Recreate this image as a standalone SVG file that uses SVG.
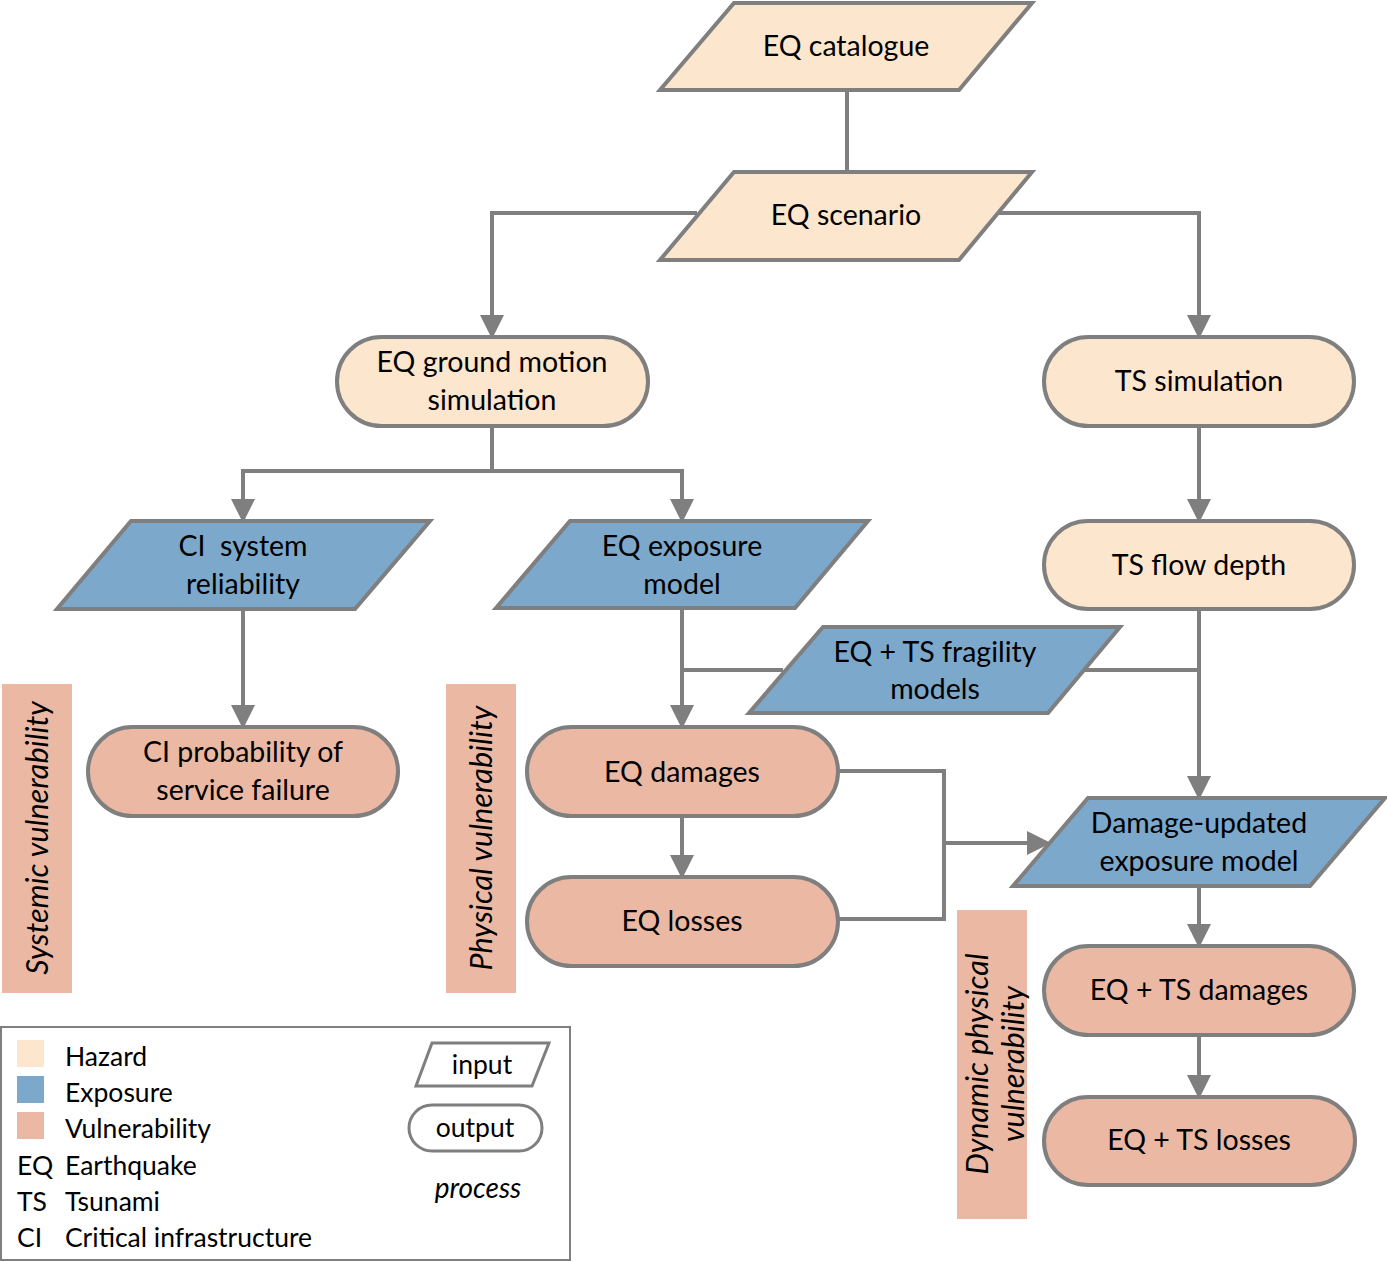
<svg xmlns="http://www.w3.org/2000/svg" width="1387" height="1262" viewBox="0 0 1387 1262">
<defs>
<style>
.hz{fill:#FCE6CD;stroke:#7F7F7F;stroke-width:4;stroke-linejoin:miter}
.ex{fill:#7CA8CC;stroke:#7F7F7F;stroke-width:4;stroke-linejoin:miter}
.vu{fill:#EBB9A3;stroke:#7F7F7F;stroke-width:4}
.bar{fill:#EBB9A3}
.ln{fill:none;stroke:#7F7F7F;stroke-width:4}
.ar{fill:none;stroke:#7F7F7F;stroke-width:4;marker-end:url(#ah)}
text{font-family:Lato,"Liberation Sans",sans-serif;font-size:28.5px;fill:#000}
.c{text-anchor:middle}
.it{font-style:italic}
.side{font-size:30.5px}
.lg{font-size:26.5px}
.pr{font-size:28px}
</style>
<marker id="ah" markerWidth="6" markerHeight="6" refX="5" refY="3" orient="auto" markerUnits="strokeWidth">
<path d="M0,0 L6,3 L0,6 Z" fill="#7F7F7F"/>
</marker>
</defs>
<g id="connectors">
<path class="ln" d="M847,90 V172"/>
<path class="ar" d="M697,213 H492 V335"/>
<path class="ar" d="M999,213 H1199 V335"/>
<path class="ln" d="M492,426 V471"/>
<path class="ar" d="M492,471 H243 V519"/>
<path class="ar" d="M492,471 H682 V519"/>
<path class="ar" d="M1199,426 V519"/>
<path class="ar" d="M243,609 V725"/>
<path class="ar" d="M682,608 V725"/>
<path class="ln" d="M682,670 H783"/>
<path class="ln" d="M1084,670 H1199"/>
<path class="ar" d="M1199,609 V796"/>
<path class="ar" d="M682,816 V875"/>
<path class="ln" d="M838,771 H944 V919 H838"/>
<path class="ar" d="M944,843 H1047"/>
<path class="ar" d="M1199,886 V944"/>
<path class="ar" d="M1199,1035 V1095"/>
</g>
<g id="eq-catalogue">
<polygon class="hz" points="734,3 1032,3 959,90 660,90"/>
<text class="c" x="846" y="56">EQ catalogue</text>
</g>
<g id="eq-scenario">
<polygon class="hz" points="734,172 1032,172 959,260 660,260"/>
<text class="c" x="846" y="225">EQ scenario</text>
</g>
<g id="eq-ground-motion">
<rect class="hz" x="337" y="337" width="311" height="89" rx="44.5"/>
<text class="c" x="492" y="372">EQ ground motion</text>
<text class="c" x="492" y="410">simulation</text>
</g>
<g id="ts-simulation">
<rect class="hz" x="1044" y="337" width="310" height="89" rx="44.5"/>
<text class="c" x="1199" y="391">TS simulation</text>
</g>
<g id="ci-system">
<polygon class="ex" points="131,521 430,521 355,609 57,609"/>
<text class="c" x="243" y="556" xml:space="preserve">CI  system</text>
<text class="c" x="243" y="594">reliability</text>
</g>
<g id="eq-exposure">
<polygon class="ex" points="570,521 868,521 795,608 496,608"/>
<text class="c" x="682" y="556">EQ exposure</text>
<text class="c" x="682" y="594">model</text>
</g>
<g id="ts-flow-depth">
<rect class="hz" x="1044" y="521" width="310" height="88" rx="44"/>
<text class="c" x="1199" y="575">TS flow depth</text>
</g>
<g id="fragility">
<polygon class="ex" points="823,627 1120,627 1048,713 749,713"/>
<text class="c" x="935" y="662">EQ + TS fragility</text>
<text class="c" x="935" y="699">models</text>
</g>
<g id="ci-failure">
<rect class="vu" x="88" y="727" width="310" height="89" rx="44.5"/>
<text class="c" x="243" y="762">CI probability of</text>
<text class="c" x="243" y="800">service failure</text>
</g>
<g id="eq-damages">
<rect class="vu" x="527" y="727" width="311" height="89" rx="44.5"/>
<text class="c" x="682" y="782">EQ damages</text>
</g>
<g id="eq-losses">
<rect class="vu" x="527" y="877" width="311" height="89" rx="44.5"/>
<text class="c" x="682" y="931">EQ losses</text>
</g>
<g id="damage-updated">
<polygon class="ex" points="1088,798 1385,798 1310,886 1013,886"/>
<text class="c" x="1199" y="833">Damage-updated</text>
<text class="c" x="1199" y="871">exposure model</text>
</g>
<g id="eqts-damages">
<rect class="vu" x="1044" y="946" width="310" height="89" rx="44.5"/>
<text class="c" x="1199" y="1000">EQ + TS damages</text>
</g>
<g id="eqts-losses">
<rect class="vu" x="1044" y="1097" width="311" height="88" rx="44"/>
<text class="c" x="1199" y="1150">EQ + TS losses</text>
</g>
<g id="systemic-label">
<rect class="bar" x="2" y="684" width="70" height="309"/>
<text class="c it side" transform="translate(48,838) rotate(-90)">Systemic vulnerability</text>
</g>
<g id="physical-label">
<rect class="bar" x="446" y="684" width="70" height="309"/>
<text class="c it side" transform="translate(492,838) rotate(-90)">Physical vulnerability</text>
</g>
<g id="dynamic-label">
<rect class="bar" x="957" y="910" width="70" height="309"/>
<text class="c it side" transform="translate(1006,1064) rotate(-90)"><tspan x="0" y="-18">Dynamic physical</tspan><tspan x="0" y="18">vulnerability</tspan></text>
</g>
<g id="legend">
<rect x="1" y="1027" width="569" height="233" fill="#fff" stroke="#7F7F7F" stroke-width="2"/>
<rect x="17" y="1040" width="27" height="27" fill="#FCE6CD"/>
<rect x="17" y="1076" width="27" height="27" fill="#7CA8CC"/>
<rect x="17" y="1112" width="27" height="27" fill="#EBB9A3"/>
<text class="lg" x="65" y="1066">Hazard</text>
<text class="lg" x="65" y="1102">Exposure</text>
<text class="lg" x="65" y="1138">Vulnerability</text>
<text class="lg" x="17" y="1175">EQ</text>
<text class="lg" x="65" y="1175">Earthquake</text>
<text class="lg" x="17" y="1211">TS</text>
<text class="lg" x="65" y="1211">Tsunami</text>
<text class="lg" x="17" y="1247">CI</text>
<text class="lg" x="65" y="1247">Critical infrastructure</text>
<polygon points="432,1043 549,1043 532,1086 416,1086" fill="#fff" stroke="#7F7F7F" stroke-width="3"/>
<text class="lg c" x="482" y="1074">input</text>
<rect x="409" y="1105" width="133" height="46" rx="23" fill="#fff" stroke="#7F7F7F" stroke-width="3"/>
<text class="lg c" x="475" y="1137">output</text>
<text class="lg c it pr" x="478" y="1198">process</text>
</g>
</svg>
